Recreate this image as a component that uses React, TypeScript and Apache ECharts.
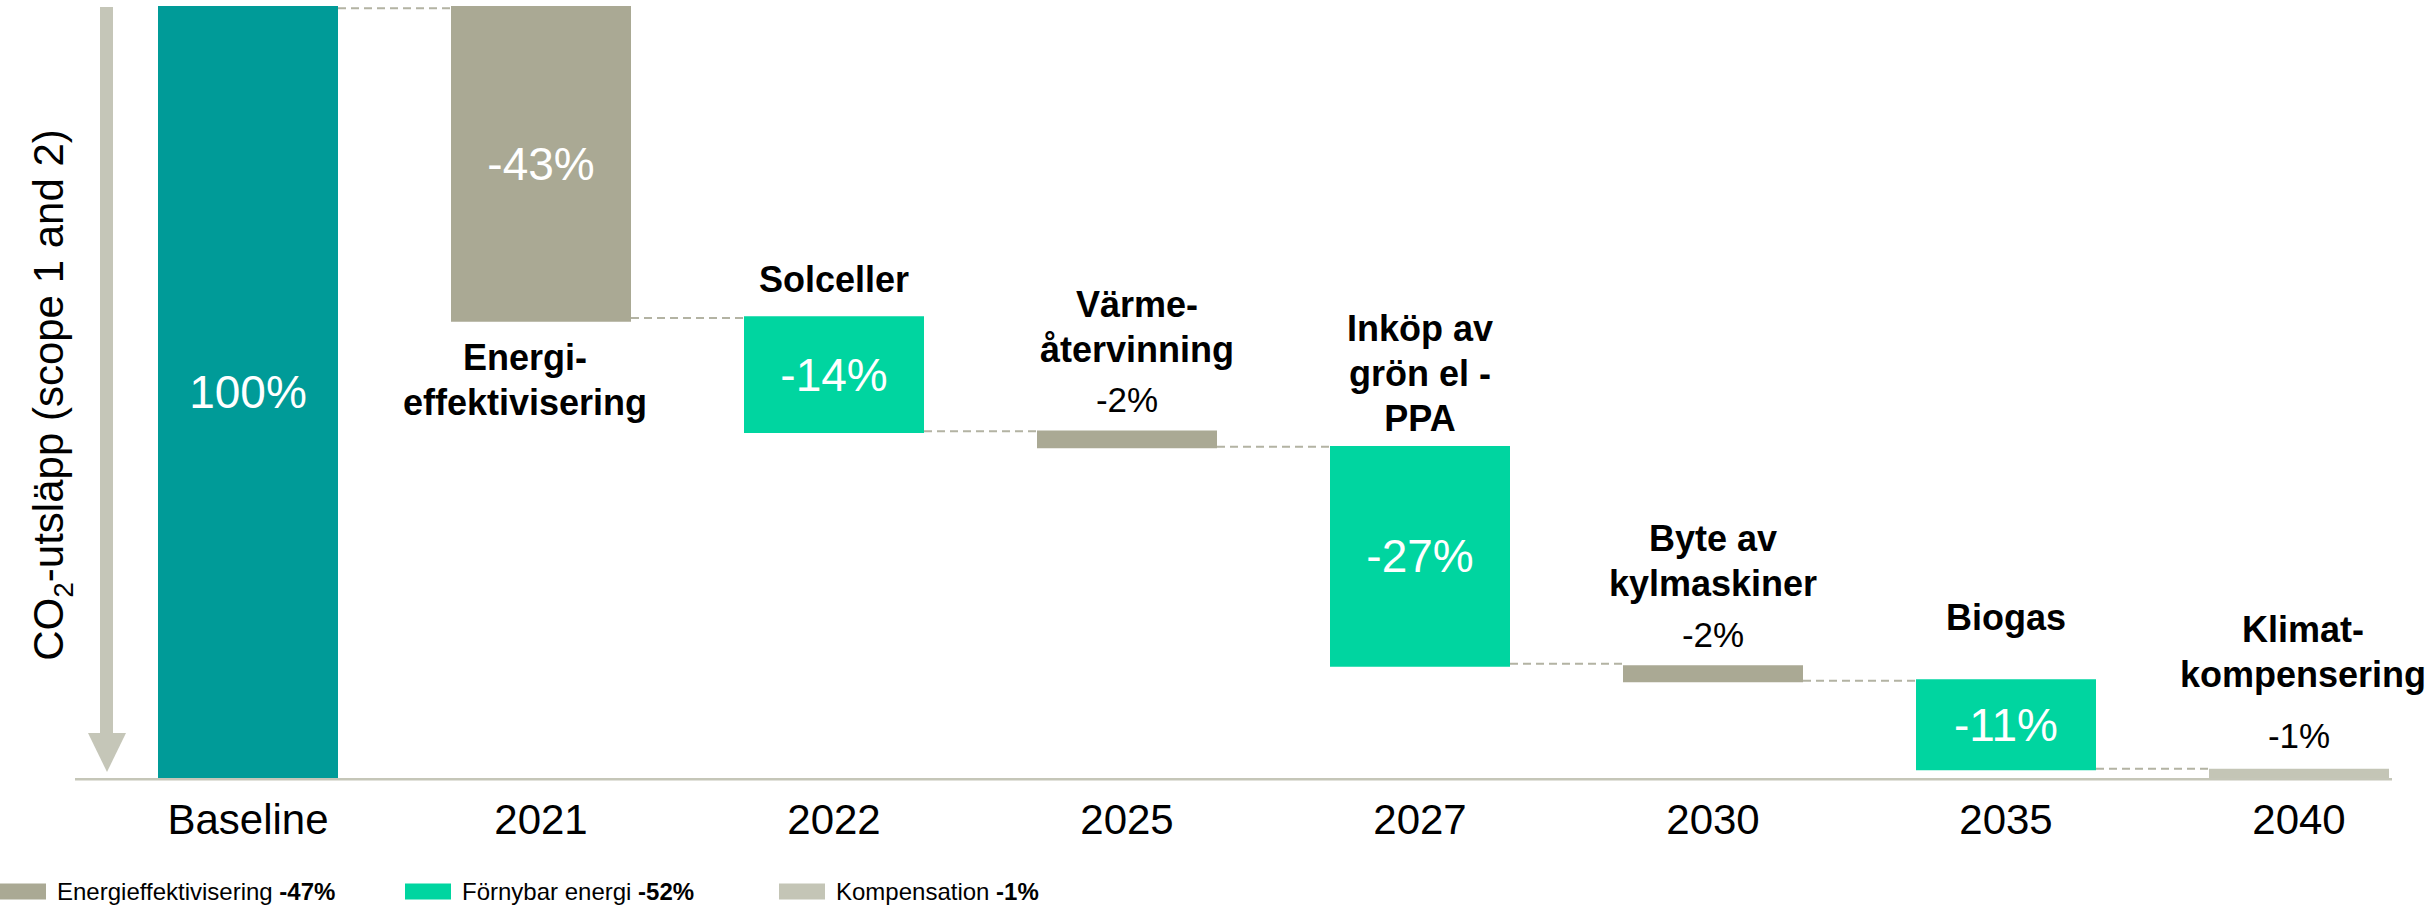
import React, { useEffect, useRef } from 'react';
import * as echarts from 'echarts';

// ---------- data ----------
const categories = ['Baseline', '2021', '2022', '2025', '2027', '2030', '2035', '2040'];
const barTop = [100, 100, 59.8, 45.0, 43.0, 14.6, 12.8, 1.2];
const barBottom = [0, 59.1, 44.7, 42.7, 14.4, 12.4, 1.0, 0];
const connectorLevels = [99.7, 59.6, 44.9, 42.9, 14.8, 12.6, 1.2];
const barGroups = ['base', 'energi', 'fornybar', 'energi', 'fornybar', 'energi', 'fornybar', 'kompensation'];
const valueLabels = ['100%', '-43%', '-14%', '-2%', '-27%', '-2%', '-11%', '-1%'];
const valueInside = [true, true, true, false, true, false, true, false];
const measureNames = [
  '',
  'Energi-\neffektivisering',
  'Solceller',
  'Värme-\nåtervinning',
  'Inköp av\ngrön el -\nPPA',
  'Byte av\nkylmaskiner',
  'Biogas',
  'Klimat-\nkompensering',
];
const legendNames = ['Energieffektivisering', 'Förnybar energi', 'Kompensation'];
const legendTotals = ['-47%', '-52%', '-1%'];
const legendGroups = ['energi', 'fornybar', 'kompensation'];

// ---------- layout / style ----------
const FONT = '"Liberation Sans", Arial, Helvetica, sans-serif';
const COLORS: Record<string, string> = {
  base: '#009b98',
  energi: '#aaa994',
  fornybar: '#00d5a0',
  kompensation: '#c4c5b6',
};
const AXIS_GRAY = '#c5c6b8';
const CONNECTOR = '#b3b3a3';
const BAR_W = 180;
const nameBelow = [false, true, false, false, false, false, false, false];
const nameGap = [0, 48, 24, 69, 15, 69, 49, 82];
const nameDx = [0, -16, 0, 10, 0, 0, 0, 4];
const valueGap = [0, 0, 0, 19, 0, 19, 0, 21];
const legendLeft = [0, 405, 779];
const C = 0.3465; // central-baseline offset (em)

export default function App() {
  const ref = useRef<HTMLDivElement>(null);

  useEffect(() => {
    document.body.style.margin = '0';
    const chart = echarts.init(ref.current!, undefined, { renderer: 'svg' });

    const measureData = categories.map((_, i) => ({
      value: +(barTop[i] - barBottom[i]).toFixed(2),
      itemStyle: { color: COLORS[barGroups[i]] },
      label: { show: valueInside[i], formatter: valueLabels[i] },
    }));

    const option: any = {
      animation: false,
      grid: { left: 101.5, top: 6, width: 2344, height: 772, containLabel: false, outerBoundsMode: 'none' },
      xAxis: {
        type: 'category',
        data: categories,
        axisLine: { show: false },
        axisTick: { show: false },
        splitLine: { show: false },
        axisLabel: { color: '#000', fontSize: 42, fontFamily: FONT, margin: 20, interval: 0 },
      },
      yAxis: { type: 'value', min: 0, max: 100, show: false },
      legend: legendNames.map((n, k) => ({
        data: [n],
        left: legendLeft[k],
        top: 878,
        padding: 0,
        itemWidth: 46,
        itemHeight: 16,
        itemGap: 0,
        icon: 'rect',
        selectedMode: false,
        formatter: (name: string) => `{n|${name}} {p|${legendTotals[k]}}`,
        textStyle: {
          fontSize: 24,
          fontFamily: FONT,
          color: '#000',
          lineHeight: 27,
          rich: {
            n: { fontSize: 24, fontFamily: FONT, color: '#000', lineHeight: 27, padding: [0, 0, 0, 6] },
            p: { fontSize: 24, fontFamily: FONT, color: '#000', lineHeight: 27, fontWeight: 'bold' },
          },
        },
      })),
      graphic: [
        { type: 'rect', silent: true, shape: { x: 100, y: 7, width: 13, height: 727 }, style: { fill: AXIS_GRAY } },
        {
          type: 'polygon',
          silent: true,
          shape: { points: [[88, 733], [126, 733], [107, 772]] },
          style: { fill: AXIS_GRAY },
        },
        {
          type: 'line',
          silent: true,
          shape: { x1: 75, y1: 779.2, x2: 2392, y2: 779.2 },
          style: { stroke: AXIS_GRAY, lineWidth: 2.5 },
        },
        {
          type: 'text',
          silent: true,
          x: 48.5,
          y: 395,
          rotation: Math.PI / 2,
          style: {
            text: '{a|CO}{s|2}{a|-utsläpp (scope 1 and 2)}',
            align: 'center',
            verticalAlign: 'middle',
            fill: '#000',
            rich: {
              a: { fontSize: 42, fontFamily: FONT, lineHeight: 58, verticalAlign: 'middle', fill: '#000' },
              s: { fontSize: 28, fontFamily: FONT, lineHeight: 28, verticalAlign: 'bottom', fill: '#000' },
            },
          },
        },
      ],
      series: [
        {
          type: 'bar',
          name: '_base',
          stack: 'wf',
          barWidth: BAR_W,
          data: barBottom,
          itemStyle: { color: 'transparent' },
          silent: true,
          emphasis: { disabled: true },
        },
        {
          type: 'bar',
          name: '_measure',
          stack: 'wf',
          barWidth: BAR_W,
          data: measureData,
          silent: true,
          emphasis: { disabled: true },
          label: { show: true, position: 'inside', color: '#fff', fontSize: 46, fontFamily: FONT },
        },
        ...legendNames.map((n, k) => ({
          type: 'bar',
          name: n,
          stack: 'wf',
          barWidth: BAR_W,
          data: [],
          itemStyle: { color: COLORS[legendGroups[k]] },
        })),
        {
          type: 'custom',
          name: '_connectors',
          silent: true,
          data: connectorLevels.map((v, i) => [i, v]),
          renderItem: (params: any, api: any) => {
            const p = api.coord([api.value(0), api.value(1)]);
            const band = api.size([1, 0])[0];
            return {
              type: 'line',
              shape: { x1: p[0] + BAR_W / 2, y1: p[1], x2: p[0] + band - BAR_W / 2, y2: p[1] },
              style: { stroke: CONNECTOR, lineWidth: 2, lineDash: [8, 5] },
            };
          },
        },
        {
          type: 'custom',
          name: '_annotations',
          silent: true,
          data: categories.map((_, i) => [i, nameBelow[i] ? barBottom[i] : barTop[i]]),
          renderItem: (params: any, api: any) => {
            const i = params.dataIndex;
            const p = api.coord([api.value(0), api.value(1)]);
            const children: any[] = [];
            if (measureNames[i]) {
              const below = nameBelow[i];
              children.push({
                type: 'text',
                x: p[0] + nameDx[i],
                y: below ? p[1] + nameGap[i] - (22.5 + C * 36) : p[1] - nameGap[i] + (22.5 - C * 36),
                style: {
                  text: measureNames[i],
                  fontSize: 36,
                  fontWeight: 'bold',
                  fontFamily: FONT,
                  lineHeight: 45,
                  fill: '#000',
                  align: 'center',
                  verticalAlign: below ? 'top' : 'bottom',
                },
              });
            }
            if (!valueInside[i]) {
              children.push({
                type: 'text',
                x: p[0],
                y: p[1] - valueGap[i] - C * 35,
                style: {
                  text: valueLabels[i],
                  fontSize: 35,
                  fontFamily: FONT,
                  fill: '#000',
                  align: 'center',
                  verticalAlign: 'middle',
                },
              });
            }
            return { type: 'group', children };
          },
        },
      ],
    };

    chart.setOption(option);
    return () => chart.dispose();
  }, []);

  return <div ref={ref} style={{ width: 2435, height: 909 }} />;
}
